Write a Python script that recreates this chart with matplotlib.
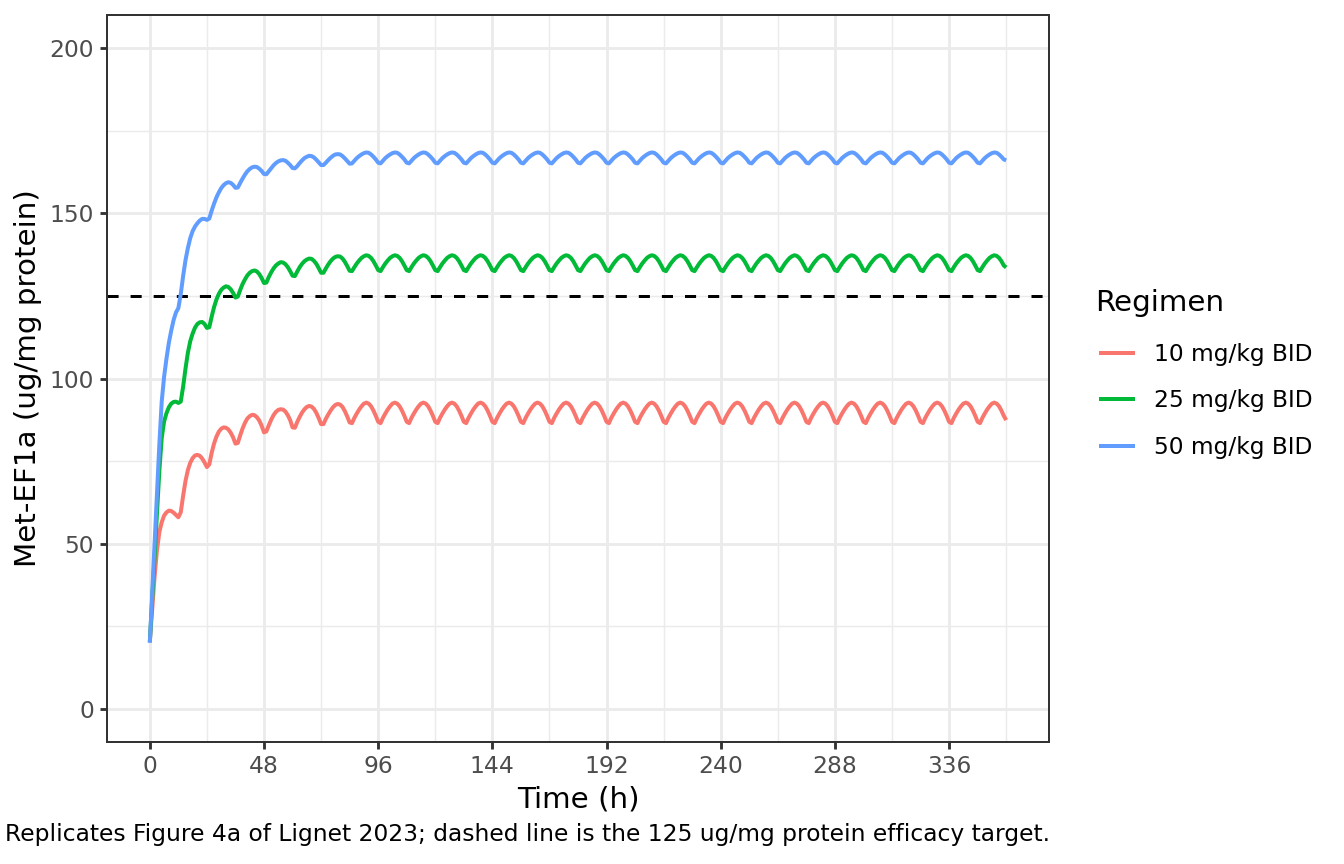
import matplotlib
matplotlib.use("Agg")
from matplotlib import pyplot as plt

# sampling times (h), hourly over the 15 days of BID dosing
hours = list(range(0, 361))

# Met-EF1a (ug/mg protein)
# first line: t = 0..12, then one line per 12 h dosing interval
dose_10 = [
    20.3, 30.0, 40.0, 48.0, 53.5, 56.5, 58.5, 59.5, 60.0, 59.9, 59.4, 58.7, 58.0,
    59.5, 64.5, 69.0, 72.3, 74.5, 75.9, 76.7, 76.9, 76.6, 75.8, 74.6, 73.2,
    74.0, 77.5, 80.3, 82.4, 83.9, 84.8, 85.2, 85.1, 84.6, 83.6, 82.2, 80.3,
    80.5, 82.8, 84.9, 86.6, 87.9, 88.6, 89.0, 88.9, 88.3, 87.3, 85.7, 83.7,
    84.0, 85.8, 87.5, 88.9, 89.9, 90.5, 90.7, 90.6, 90.0, 88.9, 87.4, 85.2,
    85.1, 86.9, 88.4, 89.7, 90.7, 91.4, 91.7, 91.5, 90.8, 89.6, 88.0, 86.2,
    86.2, 87.8, 89.1, 90.3, 91.3, 92.0, 92.3, 92.1, 91.4, 90.1, 88.5, 86.7,
    86.5, 88.1, 89.4, 90.6, 91.6, 92.4, 92.7, 92.4, 91.6, 90.3, 88.7, 86.9,
    86.5, 88.1, 89.4, 90.6, 91.6, 92.4, 92.7, 92.4, 91.6, 90.3, 88.7, 86.9,
    86.5, 88.1, 89.4, 90.6, 91.6, 92.4, 92.7, 92.4, 91.6, 90.3, 88.7, 86.9,
    86.5, 88.1, 89.4, 90.6, 91.6, 92.4, 92.7, 92.4, 91.6, 90.3, 88.7, 86.9,
    86.5, 88.1, 89.4, 90.6, 91.6, 92.4, 92.7, 92.4, 91.6, 90.3, 88.7, 86.9,
    86.5, 88.1, 89.4, 90.6, 91.6, 92.4, 92.7, 92.4, 91.6, 90.3, 88.7, 86.9,
    86.5, 88.1, 89.4, 90.6, 91.6, 92.4, 92.7, 92.4, 91.6, 90.3, 88.7, 86.9,
    86.5, 88.1, 89.4, 90.6, 91.6, 92.4, 92.7, 92.4, 91.6, 90.3, 88.7, 86.9,
    86.5, 88.1, 89.4, 90.6, 91.6, 92.4, 92.7, 92.4, 91.6, 90.3, 88.7, 86.9,
    86.5, 88.1, 89.4, 90.6, 91.6, 92.4, 92.7, 92.4, 91.6, 90.3, 88.7, 86.9,
    86.5, 88.1, 89.4, 90.6, 91.6, 92.4, 92.7, 92.4, 91.6, 90.3, 88.7, 86.9,
    86.5, 88.1, 89.4, 90.6, 91.6, 92.4, 92.7, 92.4, 91.6, 90.3, 88.7, 86.9,
    86.5, 88.1, 89.4, 90.6, 91.6, 92.4, 92.7, 92.4, 91.6, 90.3, 88.7, 86.9,
    86.5, 88.1, 89.4, 90.6, 91.6, 92.4, 92.7, 92.4, 91.6, 90.3, 88.7, 86.9,
    86.5, 88.1, 89.4, 90.6, 91.6, 92.4, 92.7, 92.4, 91.6, 90.3, 88.7, 86.9,
    86.5, 88.1, 89.4, 90.6, 91.6, 92.4, 92.7, 92.4, 91.6, 90.3, 88.7, 86.9,
    86.5, 88.1, 89.4, 90.6, 91.6, 92.4, 92.7, 92.4, 91.6, 90.3, 88.7, 86.9,
    86.5, 88.1, 89.4, 90.6, 91.6, 92.4, 92.7, 92.4, 91.6, 90.3, 88.7, 86.9,
    86.5, 88.1, 89.4, 90.6, 91.6, 92.4, 92.7, 92.4, 91.6, 90.3, 88.7, 86.9,
    86.5, 88.1, 89.4, 90.6, 91.6, 92.4, 92.7, 92.4, 91.6, 90.3, 88.7, 86.9,
    86.5, 88.1, 89.4, 90.6, 91.6, 92.4, 92.7, 92.4, 91.6, 90.3, 88.7, 86.9,
    86.5, 88.1, 89.4, 90.6, 91.6, 92.4, 92.7, 92.4, 91.6, 90.3, 88.7, 86.9,
    86.5, 88.1, 89.4, 90.6, 91.6, 92.4, 92.7, 92.4, 91.6, 90.3, 88.7, 87.4,
]

dose_25 = [
    20.3, 33.0, 46.0, 59.0, 72.0, 82.0, 87.0, 89.5, 91.3, 92.4, 92.9, 93.0, 92.6,
    93.0, 97.5, 103.0, 107.8, 111.3, 113.6, 115.4, 116.5, 117.0, 117.1, 116.5, 115.3,
    115.5, 118.7, 121.6, 123.9, 125.6, 126.8, 127.5, 127.9, 127.7, 127.0, 125.9, 124.5,
    124.8, 126.8, 128.6, 130.0, 131.2, 132.0, 132.5, 132.7, 132.4, 131.6, 130.4, 128.9,
    129.0, 130.7, 132.1, 133.3, 134.2, 134.8, 135.2, 135.1, 134.6, 133.7, 132.5, 131.1,
    131.0, 132.4, 133.7, 134.7, 135.5, 136.0, 136.3, 136.2, 135.6, 134.7, 133.4, 132.0,
    132.0, 133.3, 134.5, 135.5, 136.3, 136.8, 137.0, 136.9, 136.3, 135.3, 134.0, 132.6,
    132.5, 133.7, 134.8, 135.7, 136.5, 137.0, 137.3, 137.1, 136.5, 135.5, 134.2, 132.8,
    132.5, 133.7, 134.8, 135.7, 136.5, 137.0, 137.3, 137.1, 136.5, 135.5, 134.2, 132.8,
    132.5, 133.7, 134.8, 135.7, 136.5, 137.0, 137.3, 137.1, 136.5, 135.5, 134.2, 132.8,
    132.5, 133.7, 134.8, 135.7, 136.5, 137.0, 137.3, 137.1, 136.5, 135.5, 134.2, 132.8,
    132.5, 133.7, 134.8, 135.7, 136.5, 137.0, 137.3, 137.1, 136.5, 135.5, 134.2, 132.8,
    132.5, 133.7, 134.8, 135.7, 136.5, 137.0, 137.3, 137.1, 136.5, 135.5, 134.2, 132.8,
    132.5, 133.7, 134.8, 135.7, 136.5, 137.0, 137.3, 137.1, 136.5, 135.5, 134.2, 132.8,
    132.5, 133.7, 134.8, 135.7, 136.5, 137.0, 137.3, 137.1, 136.5, 135.5, 134.2, 132.8,
    132.5, 133.7, 134.8, 135.7, 136.5, 137.0, 137.3, 137.1, 136.5, 135.5, 134.2, 132.8,
    132.5, 133.7, 134.8, 135.7, 136.5, 137.0, 137.3, 137.1, 136.5, 135.5, 134.2, 132.8,
    132.5, 133.7, 134.8, 135.7, 136.5, 137.0, 137.3, 137.1, 136.5, 135.5, 134.2, 132.8,
    132.5, 133.7, 134.8, 135.7, 136.5, 137.0, 137.3, 137.1, 136.5, 135.5, 134.2, 132.8,
    132.5, 133.7, 134.8, 135.7, 136.5, 137.0, 137.3, 137.1, 136.5, 135.5, 134.2, 132.8,
    132.5, 133.7, 134.8, 135.7, 136.5, 137.0, 137.3, 137.1, 136.5, 135.5, 134.2, 132.8,
    132.5, 133.7, 134.8, 135.7, 136.5, 137.0, 137.3, 137.1, 136.5, 135.5, 134.2, 132.8,
    132.5, 133.7, 134.8, 135.7, 136.5, 137.0, 137.3, 137.1, 136.5, 135.5, 134.2, 132.8,
    132.5, 133.7, 134.8, 135.7, 136.5, 137.0, 137.3, 137.1, 136.5, 135.5, 134.2, 132.8,
    132.5, 133.7, 134.8, 135.7, 136.5, 137.0, 137.3, 137.1, 136.5, 135.5, 134.2, 132.8,
    132.5, 133.7, 134.8, 135.7, 136.5, 137.0, 137.3, 137.1, 136.5, 135.5, 134.2, 132.8,
    132.5, 133.7, 134.8, 135.7, 136.5, 137.0, 137.3, 137.1, 136.5, 135.5, 134.2, 132.8,
    132.5, 133.7, 134.8, 135.7, 136.5, 137.0, 137.3, 137.1, 136.5, 135.5, 134.2, 132.8,
    132.5, 133.7, 134.8, 135.7, 136.5, 137.0, 137.3, 137.1, 136.5, 135.5, 134.2, 132.8,
    132.5, 133.7, 134.8, 135.7, 136.5, 137.0, 137.3, 137.1, 136.5, 135.5, 134.2, 133.6,
]

dose_50 = [
    20.0, 35.0, 50.0, 65.0, 80.0, 93.0, 100.5, 106.0, 110.8, 114.5, 117.7, 120.0, 121.3,
    125.5, 131.0, 135.8, 139.5, 142.5, 144.6, 146.0, 147.0, 147.8, 148.3, 148.3, 148.0,
    148.4, 150.8, 152.9, 154.8, 156.3, 157.6, 158.5, 159.1, 159.4, 159.2, 158.6, 157.7,
    157.8, 159.2, 160.5, 161.7, 162.7, 163.4, 163.9, 164.1, 164.0, 163.5, 162.8, 161.9,
    161.8, 162.7, 163.6, 164.5, 165.2, 165.7, 166.0, 166.1, 165.9, 165.3, 164.6, 163.7,
    163.6, 164.3, 165.2, 166.0, 166.7, 167.1, 167.4, 167.3, 166.9, 166.2, 165.4, 164.6,
    164.6, 165.3, 166.1, 166.8, 167.4, 167.8, 167.9, 167.8, 167.3, 166.6, 165.8, 165.0,
    165.1, 165.9, 166.7, 167.3, 167.8, 168.2, 168.4, 168.3, 167.8, 167.1, 166.3, 165.3,
    165.1, 165.9, 166.7, 167.3, 167.8, 168.2, 168.4, 168.3, 167.8, 167.1, 166.3, 165.3,
    165.1, 165.9, 166.7, 167.3, 167.8, 168.2, 168.4, 168.3, 167.8, 167.1, 166.3, 165.3,
    165.1, 165.9, 166.7, 167.3, 167.8, 168.2, 168.4, 168.3, 167.8, 167.1, 166.3, 165.3,
    165.1, 165.9, 166.7, 167.3, 167.8, 168.2, 168.4, 168.3, 167.8, 167.1, 166.3, 165.3,
    165.1, 165.9, 166.7, 167.3, 167.8, 168.2, 168.4, 168.3, 167.8, 167.1, 166.3, 165.3,
    165.1, 165.9, 166.7, 167.3, 167.8, 168.2, 168.4, 168.3, 167.8, 167.1, 166.3, 165.3,
    165.1, 165.9, 166.7, 167.3, 167.8, 168.2, 168.4, 168.3, 167.8, 167.1, 166.3, 165.3,
    165.1, 165.9, 166.7, 167.3, 167.8, 168.2, 168.4, 168.3, 167.8, 167.1, 166.3, 165.3,
    165.1, 165.9, 166.7, 167.3, 167.8, 168.2, 168.4, 168.3, 167.8, 167.1, 166.3, 165.3,
    165.1, 165.9, 166.7, 167.3, 167.8, 168.2, 168.4, 168.3, 167.8, 167.1, 166.3, 165.3,
    165.1, 165.9, 166.7, 167.3, 167.8, 168.2, 168.4, 168.3, 167.8, 167.1, 166.3, 165.3,
    165.1, 165.9, 166.7, 167.3, 167.8, 168.2, 168.4, 168.3, 167.8, 167.1, 166.3, 165.3,
    165.1, 165.9, 166.7, 167.3, 167.8, 168.2, 168.4, 168.3, 167.8, 167.1, 166.3, 165.3,
    165.1, 165.9, 166.7, 167.3, 167.8, 168.2, 168.4, 168.3, 167.8, 167.1, 166.3, 165.3,
    165.1, 165.9, 166.7, 167.3, 167.8, 168.2, 168.4, 168.3, 167.8, 167.1, 166.3, 165.3,
    165.1, 165.9, 166.7, 167.3, 167.8, 168.2, 168.4, 168.3, 167.8, 167.1, 166.3, 165.3,
    165.1, 165.9, 166.7, 167.3, 167.8, 168.2, 168.4, 168.3, 167.8, 167.1, 166.3, 165.3,
    165.1, 165.9, 166.7, 167.3, 167.8, 168.2, 168.4, 168.3, 167.8, 167.1, 166.3, 165.3,
    165.1, 165.9, 166.7, 167.3, 167.8, 168.2, 168.4, 168.3, 167.8, 167.1, 166.3, 165.3,
    165.1, 165.9, 166.7, 167.3, 167.8, 168.2, 168.4, 168.3, 167.8, 167.1, 166.3, 165.3,
    165.1, 165.9, 166.7, 167.3, 167.8, 168.2, 168.4, 168.3, 167.8, 167.1, 166.3, 165.3,
    165.1, 165.9, 166.7, 167.3, 167.8, 168.2, 168.4, 168.3, 167.8, 167.1, 166.3, 166.0,
]

regimens = ["10 mg/kg BID", "25 mg/kg BID", "50 mg/kg BID"]
colors = ["#F8766D", "#00BA38", "#619CFF"]
target = 125
x_ticks = list(range(0, 337, 48))
y_ticks = [0, 50, 100, 150, 200]
caption = ("Replicates Figure 4a of Lignet 2023; dashed line is the "
           "125 ug/mg protein efficacy target.")

W, H = 1344, 864
fig = plt.figure(figsize=(W / 144, H / 144), dpi=144)
ax = fig.add_axes([107 / W, 1 - 742 / H, (1049 - 107) / W, (742 - 15) / H])

ax.set_xlim(-18, 378)
ax.set_ylim(-10, 210)
ax.set_xticks(x_ticks)
ax.set_xticks([t + 24 for t in x_ticks], minor=True)
ax.set_yticks(y_ticks)
ax.set_yticks([25, 75, 125, 175], minor=True)
ax.grid(which="major", color="#EBEBEB", lw=1.42)
ax.grid(which="minor", color="#EBEBEB", lw=0.71)
ax.set_axisbelow(True)
ax.tick_params(which="minor", length=0)
ax.tick_params(which="major", length=3.67, width=1.42, color="#333333",
               labelsize=11.7, labelcolor="#4D4D4D", pad=2.9)
for s in ax.spines.values():
    s.set_color("#333333")
    s.set_linewidth(1.0)

ax.axhline(target, color="black", lw=1.5, ls=(0, (3.7, 4.0)), zorder=2)

for vals, name, col in zip([dose_10, dose_25, dose_50], regimens, colors):
    ax.plot(hours, vals, color=col, lw=2.0, label=name, zorder=3,
            solid_joinstyle="round", solid_capstyle="butt")

ax.set_xlabel("Time (h)", fontsize=14.7, labelpad=3.7)
ax.set_ylabel("Met-EF1a (ug/mg protein)", fontsize=14.7, labelpad=3.7)

# legend title drawn on its own so the gap to the keys matches ggplot
fig.text(1095 / W, 1 - 303 / H, "Regimen", ha="left", va="center",
         fontsize=14.7)
handles, labels = ax.get_legend_handles_labels()
fig.legend(handles, labels, loc="center left",
           bbox_to_anchor=(1099 / W, 1 - 401 / H), frameon=False,
           fontsize=11.7, handlelength=1.55, handletextpad=0.82,
           labelspacing=1.0, borderpad=0, borderaxespad=0)

fig.text(1050 / W, 1 - 835 / H, caption, ha="right", va="center",
         fontsize=11.7)

fig.savefig("out.png", dpi=144)
